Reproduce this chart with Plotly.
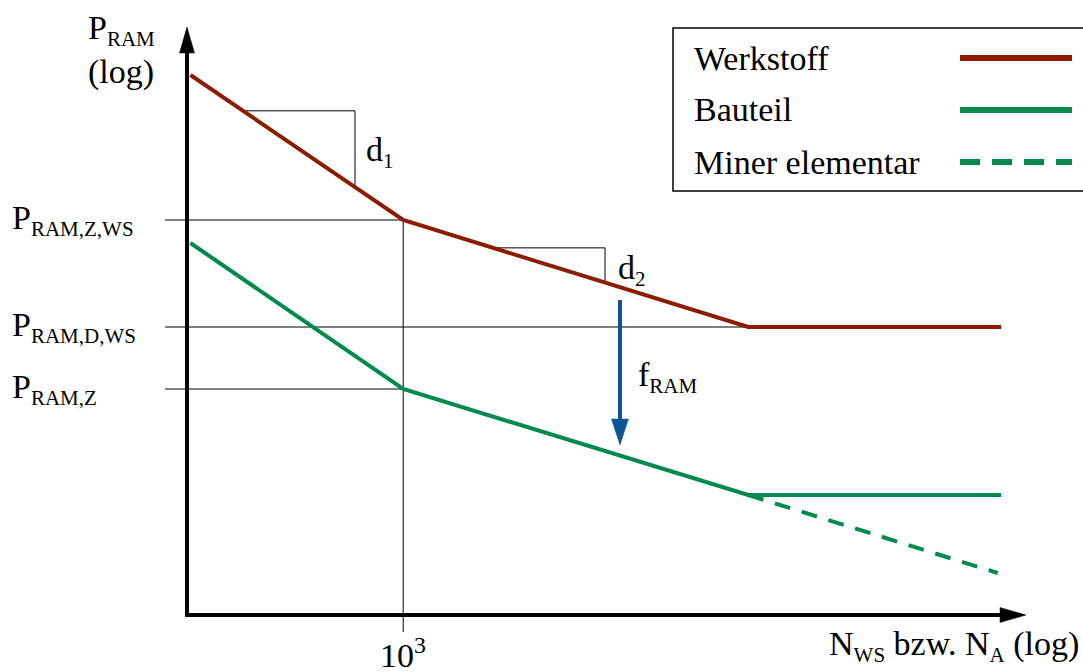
import numpy as np
import plotly.graph_objects as go

# ---------------- data (schematic, log units) ----------------
knot_x = [1.15, 3.0, 6.0, 8.2]              # log N positions of the curve knots
werkstoff_y = [5.40, 3.95, 2.88, 2.88]      # log P_RAM, material curve
bauteil_y = [3.72, 2.26, 1.20, 1.20]        # log P_RAM, component curve
miner_x = [6.0, 8.17]
miner_y = [1.20, 0.42]                      # Miner elementar continuation

ytick_vals = [3.95, 2.88, 2.26]
ytick_text = ["RAM,Z,WS", "RAM,D,WS", "RAM,Z"]
ytick_line_end = [3.0, 6.0, 3.0]
xtick_vals = [3.0]
xtick_text = ["10<sup>3</sup>"]

slope_d1_x = [1.607, 2.581]
slope_d2_x = [3.781, 4.755]
f_ram_x = 4.885
f_ram_y = [3.15, 1.70]

series_names = ["Werkstoff", "Bauteil", "Miner elementar"]
RED = "#8c1c00"
GREEN = "#008a50"
BLUE = "#0a5494"

# ---------------- geometry of the canvas ----------------
W, H = 1083, 672
X0_PX, Y0_PX = 187, 615     # pixel position of axis origin
SX, SY = 115.0, 100.0       # px per unit
X_ORIG, Y_ORIG = 1.12, 0.0


def dx(px):
    return X_ORIG + (px - X0_PX) / SX


def dy(py):
    return Y_ORIG + (Y0_PX - py) / SY


FONT = "Liberation Serif"
FS = 34
SUB = 21


def sub(t):
    return "<sub><span style='font-size:%dpx'>%s</span></sub>" % (SUB, t)


fig = go.Figure()

# thin reference lines
for v, xe in zip(ytick_vals, ytick_line_end):
    fig.add_trace(go.Scatter(x=[dx(165), xe], y=[v, v], mode="lines",
                             line=dict(color="black", width=1), showlegend=False, hoverinfo="skip"))
fig.add_trace(go.Scatter(x=[xtick_vals[0], xtick_vals[0]], y=[ytick_vals[0], dy(632)], mode="lines",
                         line=dict(color="black", width=1), showlegend=False, hoverinfo="skip"))

# slope triangles
for sx in (slope_d1_x, slope_d2_x):
    ya = float(np.interp(sx[0], knot_x, werkstoff_y))
    yb = float(np.interp(sx[1], knot_x, werkstoff_y))
    fig.add_trace(go.Scatter(x=[sx[0], sx[1], sx[1]], y=[ya, ya, yb], mode="lines",
                             line=dict(color="black", width=1), showlegend=False, hoverinfo="skip"))

# curves
fig.add_trace(go.Scatter(x=miner_x, y=miner_y, mode="lines", name=series_names[2],
                         line=dict(color=GREEN, width=4, dash="16px,12px"), showlegend=False))
fig.add_trace(go.Scatter(x=knot_x, y=bauteil_y, mode="lines", name=series_names[1],
                         line=dict(color=GREEN, width=4), showlegend=False))
fig.add_trace(go.Scatter(x=knot_x, y=werkstoff_y, mode="lines", name=series_names[0],
                         line=dict(color=RED, width=4), showlegend=False))


# arrows: shaft + filled head (head size in px)
def arrow(x0, y0, x1, y1, color, head_len=25, head_w=15, width=4):
    p0 = np.array([X0_PX + (x0 - X_ORIG) * SX, Y0_PX - (y0 - Y_ORIG) * SY])
    p1 = np.array([X0_PX + (x1 - X_ORIG) * SX, Y0_PX - (y1 - Y_ORIG) * SY])
    d = (p1 - p0) / np.linalg.norm(p1 - p0)
    n = np.array([-d[1], d[0]])
    base = p1 - d * head_len
    shaft_end = p1 - d * (head_len - 2)
    fig.add_trace(go.Scatter(x=[x0, dx(shaft_end[0])], y=[y0, dy(shaft_end[1])], mode="lines",
                             line=dict(color=color, width=width), showlegend=False, hoverinfo="skip"))
    pts = [base + n * head_w / 2, p1, base - n * head_w / 2, base + n * head_w / 2]
    fig.add_trace(go.Scatter(x=[dx(p[0]) for p in pts], y=[dy(p[1]) for p in pts], mode="lines",
                             fill="toself", fillcolor=color, line=dict(color=color, width=0.5),
                             showlegend=False, hoverinfo="skip"))


arrow(dx(185), Y_ORIG, dx(1026), Y_ORIG, "black", head_len=26, head_w=15)
arrow(X_ORIG, dy(617), X_ORIG, dy(27), "black", head_len=26, head_w=15)
arrow(f_ram_x, f_ram_y[0], f_ram_x, f_ram_y[1], BLUE, head_len=26, head_w=17)

annotations = []
fnt = dict(family=FONT, size=FS, color="black")
# y tick labels
for v, t in zip(ytick_vals, ytick_text):
    annotations.append(dict(x=dx(10), y=v, xref="x", yref="y", text="P" + sub(t), showarrow=False,
                            xanchor="left", yanchor="middle", font=fnt))
# x tick label
for v, t in zip(xtick_vals, xtick_text):
    annotations.append(dict(x=v, y=dy(653), xref="x", yref="y", text=t, showarrow=False,
                            xanchor="center", yanchor="middle", font=fnt, borderpad=0))
# axis titles
annotations.append(dict(x=dx(86), y=dy(50), xref="x", yref="y",
                        text="P" + sub("RAM") + "<br>(log)", showarrow=False,
                        xanchor="left", yanchor="middle", align="left", font=fnt))
annotations.append(dict(x=dx(1081), y=dy(646), xref="x", yref="y",
                        text="N" + sub("WS") + " bzw. N" + sub("A") + " (log)", showarrow=False,
                        xanchor="right", yanchor="middle", font=fnt))
# slope / factor labels
annotations.append(dict(x=dx(364), y=dy(152), xref="x", yref="y", text="d" + sub("1"),
                        showarrow=False, xanchor="left", yanchor="middle", font=fnt))
annotations.append(dict(x=dx(616), y=dy(270), xref="x", yref="y", text="d" + sub("2"),
                        showarrow=False, xanchor="left", yanchor="middle", font=fnt))
annotations.append(dict(x=dx(636), y=dy(377), xref="x", yref="y", text="f" + sub("RAM"),
                        showarrow=False, xanchor="left", yanchor="middle", font=fnt))

# custom legend
shapes = [dict(type="rect", xref="paper", yref="paper", x0=673 / W, x1=1095 / W,
               y0=1 - 191 / H, y1=1 - 28 / H, line=dict(color="black", width=1.5),
               fillcolor="white", layer="above")]
leg_y = [58, 110, 162]
leg_style = [(RED, "solid"), (GREEN, "solid"), (GREEN, "20px,12px")]
for name, ly, (c, d) in zip(series_names, leg_y, leg_style):
    annotations.append(dict(x=692 / W, y=1 - ly / H, xref="paper", yref="paper", text=name,
                            showarrow=False, xanchor="left", yanchor="middle", font=fnt))
    shapes.append(dict(type="line", xref="paper", yref="paper", x0=960 / W, x1=1072 / W,
                       y0=1 - ly / H, y1=1 - ly / H, line=dict(color=c, width=6, dash=d),
                       layer="above"))

fig.update_layout(
    width=W, height=H, margin=dict(l=0, r=0, t=0, b=0),
    paper_bgcolor="white", plot_bgcolor="white",
    xaxis=dict(range=[dx(0), dx(W)], visible=False, fixedrange=True),
    yaxis=dict(range=[dy(H), dy(0)], visible=False, fixedrange=True),
    annotations=annotations, shapes=shapes, showlegend=False,
)

fig.write_html("out.html", config={"displayModeBar": False},
               post_script="document.body.style.margin='0';")
